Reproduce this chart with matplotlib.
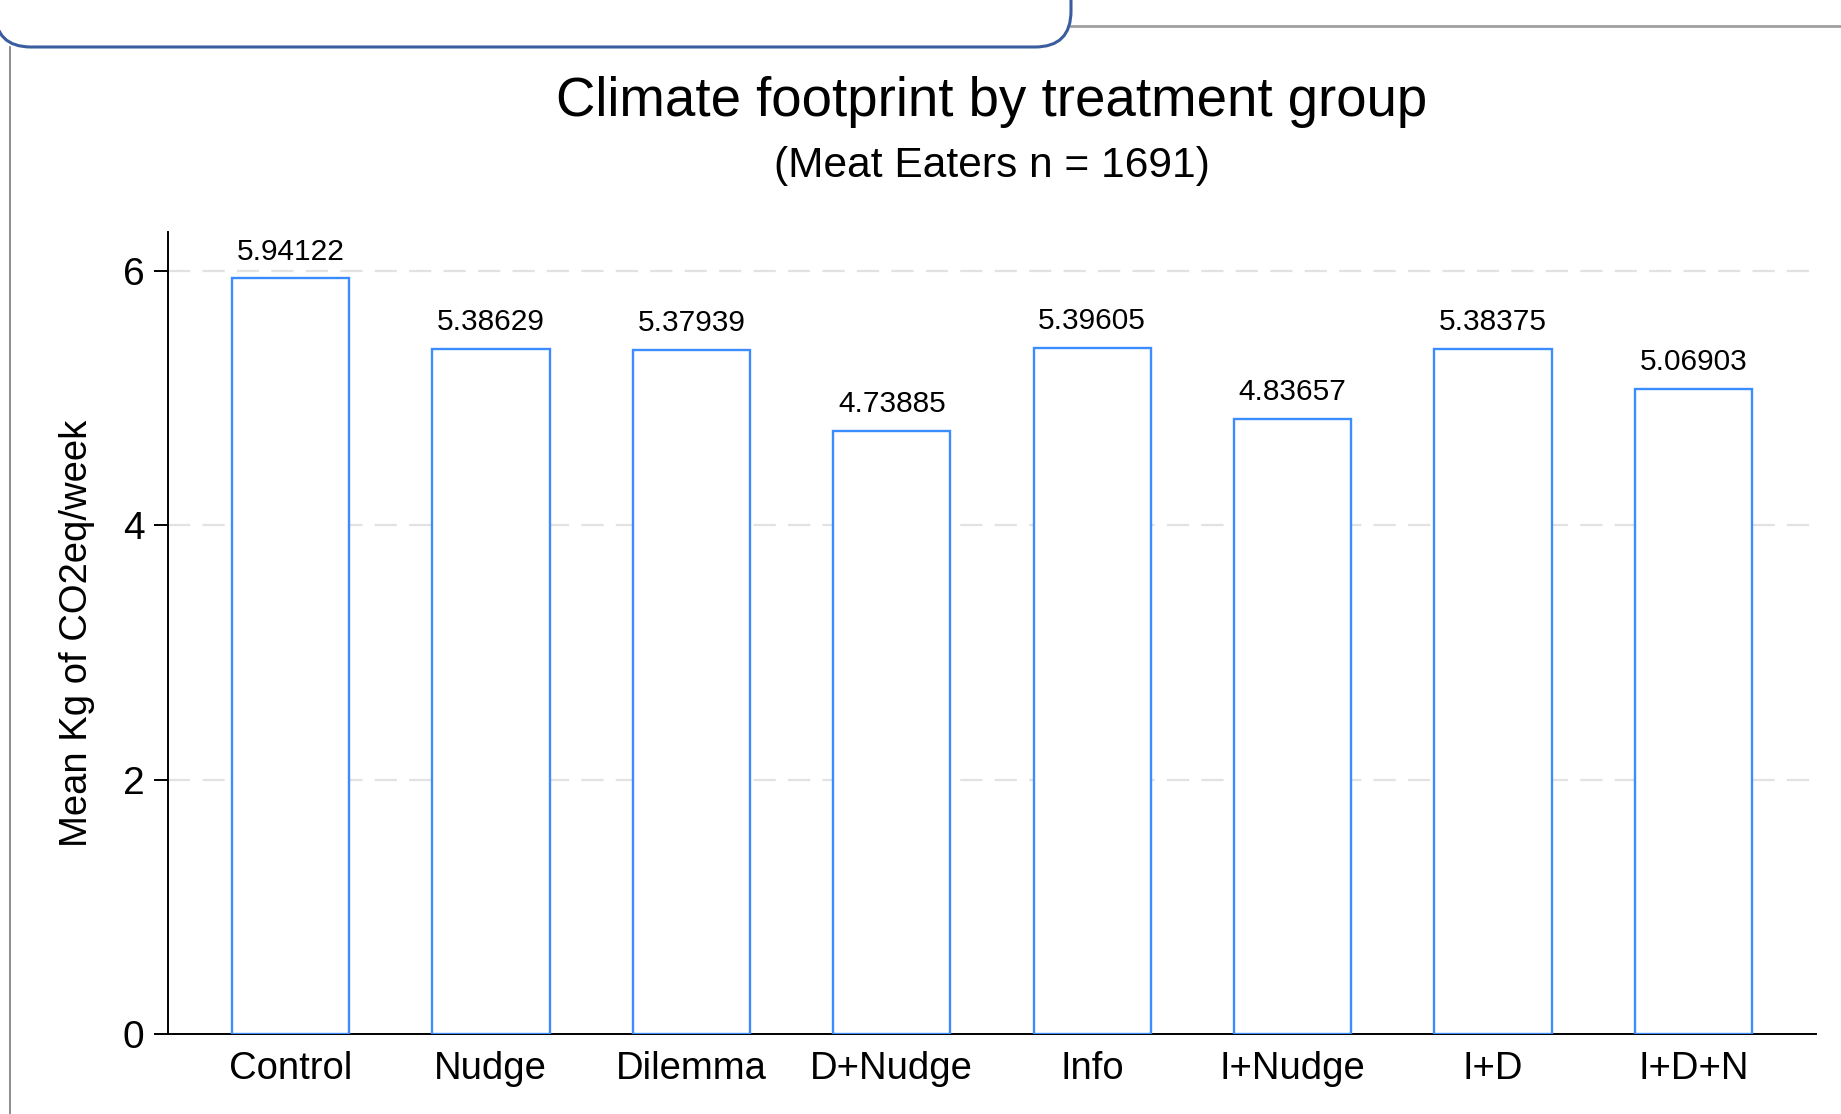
import numpy as np
import matplotlib
matplotlib.use("Agg")
import matplotlib.pyplot as plt
from matplotlib.patches import FancyBboxPatch
from matplotlib.lines import Line2D

# data
groups = ['Control', 'Nudge', 'Dilemma', 'D+Nudge', 'Info', 'I+Nudge', 'I+D', 'I+D+N']
mean_co2 = [5.94122, 5.38629, 5.37939, 4.73885, 5.39605, 4.83657, 5.38375, 5.06903]
y_ticks = [0, 2, 4, 6]

title = "Climate footprint by treatment group"
subtitle = "(Meat Eaters n = 1691)"
y_label = "Mean Kg of CO2eq/week"

plt.rcParams['font.family'] = ['Liberation Sans', 'DejaVu Sans']

W, H = 1841, 1114
fig = plt.figure(figsize=(W / 100, H / 100), dpi=100)

# axes placed in pixel terms: left 168, right 1816, bottom 1034, top 232
ax = fig.add_axes([168 / W, 1 - 1034 / H, (1816 - 168) / W, (1034 - 232) / H])

bar_edge = '#3b8cff'
x = np.arange(len(groups))
ax.bar(x, mean_co2, width=0.586, facecolor='white', edgecolor=bar_edge,
       linewidth=1.7, zorder=3)

for xi, v in zip(x, mean_co2):
    ax.annotate(f"{v:.5f}", (xi, v), xytext=(0, 13.5), textcoords='offset points',
                ha='center', va='baseline', fontsize=21.5, zorder=4)

ax.set_xlim(-0.61, 7.61)
ax.set_ylim(0, 6.305)

ax.set_yticks(y_ticks)
ax.set_yticklabels([str(t) for t in y_ticks])
ax.set_xticks(x)
ax.set_xticklabels(groups)

ax.tick_params(axis='y', length=10, width=1.4, pad=7, labelsize=28)
ax.tick_params(axis='x', length=0, pad=12, labelsize=27.5)

for t in y_ticks[1:]:
    ax.axhline(t, color='#e2e2e2', linewidth=1.6, linestyle=(0, (10, 5.5)), zorder=1)

for side in ['top', 'right']:
    ax.spines[side].set_visible(False)
ax.spines['left'].set_linewidth(1.4)
ax.spines['bottom'].set_linewidth(1.4)

ax.set_ylabel(y_label, fontsize=27.5)
ax.yaxis.set_label_coords(-0.0443, 0.5)

fig.text(992 / W, 1 - 116 / H, title, ha='center', va='baseline', fontsize=39.3)
fig.text(992 / W, 1 - 177 / H, subtitle, ha='center', va='baseline', fontsize=30.6)

# window chrome around the screenshot
box = FancyBboxPatch((-0.05, (H - 47) / 100), 10.76, 2.0,
                     boxstyle="round,pad=0,rounding_size=0.36",
                     transform=fig.dpi_scale_trans, facecolor='white',
                     edgecolor='#3a5d9f', linewidth=2.2, zorder=0)
fig.patches.append(box)
fig.lines.append(Line2D([1071 / W, 1.0], [1 - 26 / H, 1 - 26 / H], transform=fig.transFigure,
                        color='#a0a0a0', linewidth=2.0, zorder=-1))
fig.lines.append(Line2D([10 / W, 10 / W], [0, 1 - 47 / H], transform=fig.transFigure,
                        color='#7a7a7a', linewidth=1.2, zorder=-1))

fig.savefig("out.png", dpi=100)
